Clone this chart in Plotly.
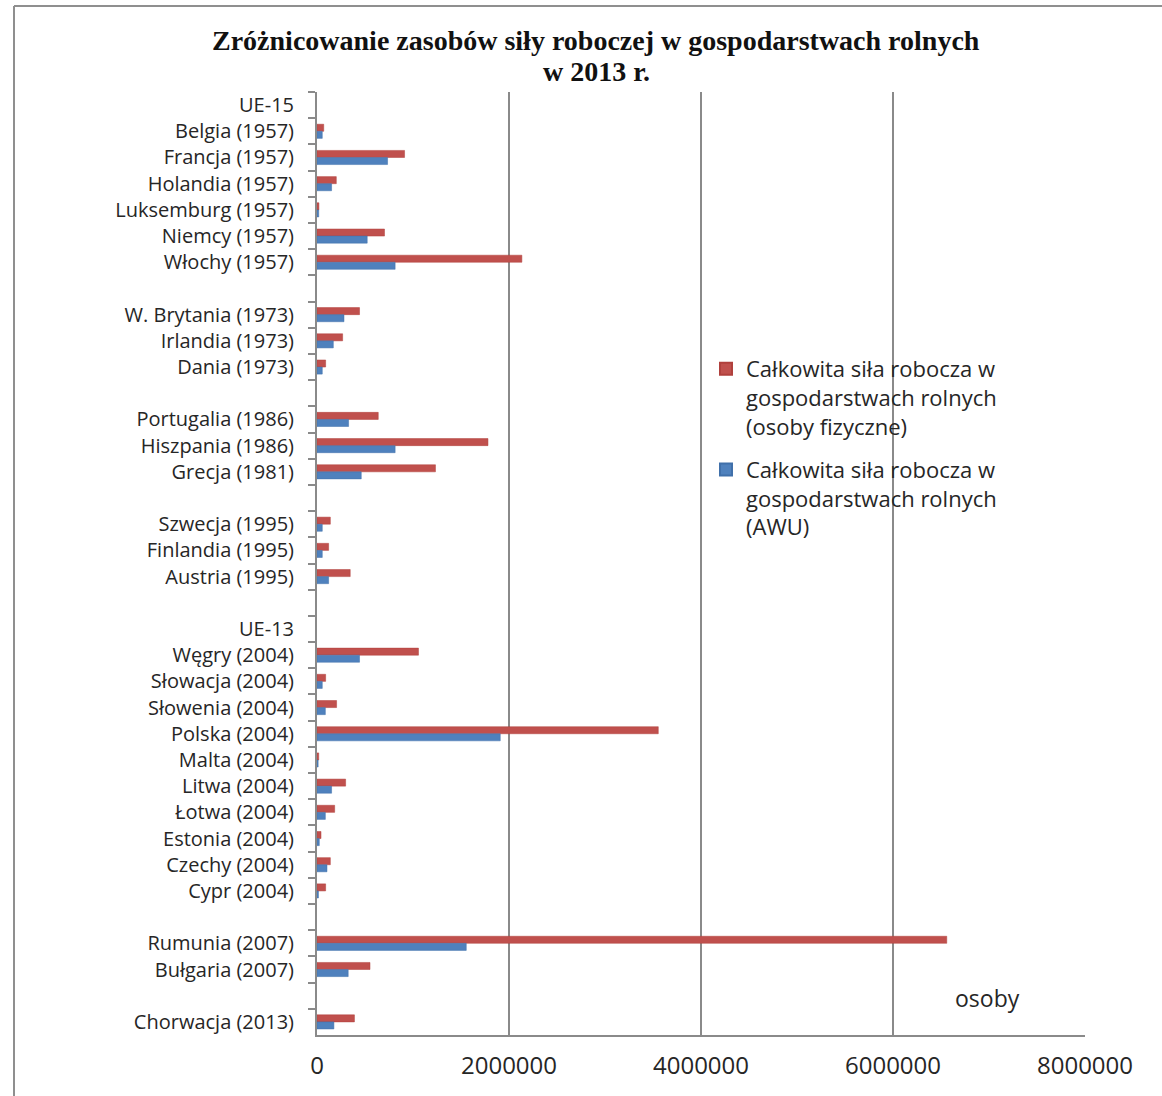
import plotly.graph_objects as go

categories = ["UE-15", "Belgia (1957)", "Francja (1957)", "Holandia (1957)", "Luksemburg (1957)",
              "Niemcy (1957)", "Włochy (1957)", " ", "W. Brytania (1973)", "Irlandia (1973)",
              "Dania (1973)", "  ", "Portugalia (1986)", "Hiszpania (1986)", "Grecja (1981)", "   ",
              "Szwecja (1995)", "Finlandia (1995)", "Austria (1995)", "    ", "UE-13", "Węgry (2004)",
              "Słowacja (2004)", "Słowenia (2004)", "Polska (2004)", "Malta (2004)", "Litwa (2004)",
              "Łotwa (2004)", "Estonia (2004)", "Czechy (2004)", "Cypr (2004)", "     ",
              "Rumunia (2007)", "Bułgaria (2007)", "      ", "Chorwacja (2013)"]

persons = [None, 70000, 912000, 201000, 20000, 703000, 2134000, None, 443000, 267000, 90000, None,
           638000, 1781000, 1234000, None, 139000, 121000, 346000, None, None, 1057000, 90000, 204000,
           3555000, 18000, 298000, 184000, 42000, 139000, 90000, None, 6560000, 552000, None, 390000]

awu = [None, 55000, 735000, 152000, 18000, 523000, 814000, None, 281000, 170000, 55000, None,
       329000, 814000, 461000, None, 55000, 55000, 121000, None, None, 443000, 55000, 87000,
       1909000, 12000, 152000, 87000, 24000, 104000, 15000, None, 1555000, 325000, None, 176000]

name_persons = "Całkowita siła robocza w<br>gospodarstwach rolnych<br>(osoby fizyczne)"
name_awu = "Całkowita siła robocza w<br>gospodarstwach rolnych<br>(AWU)"
title_line1 = "Zróżnicowanie zasobów siły roboczej w gospodarstwach rolnych"
title_line2 = "w 2013 r."
x_ticks = [0, 2000000, 4000000, 6000000, 8000000]
x_ticktext = ["0", "2000000", "4000000", "6000000", "8000000"]

RED = "#C0504D"
BLUE = "#4F81BD"
GRID = "#8a8a8a"
TXT = "#262626"

fig = go.Figure()
fig.add_trace(go.Bar(y=categories, x=persons, orientation="h", name=name_persons,
                     marker=dict(color=RED, line=dict(color="#b0403d", width=0.5)),
                     legendgroup="a"))
fig.add_trace(go.Bar(y=categories, x=awu, orientation="h", name=name_awu,
                     marker=dict(color=BLUE, line=dict(color="#4070aa", width=0.5)),
                     legendgroup="b"))

W, H = 1162, 1096
L, R, T, B = 317, 77, 92, 61
pw, ph = W - L - R, H - T - B


def px(xp):
    return (xp - L) / pw


def py(yp):
    return (H - B - yp) / ph


fig.update_layout(
    width=W, height=H,
    margin=dict(l=L, r=R, t=T, b=B, autoexpand=False),
    paper_bgcolor="white", plot_bgcolor="white",
    barmode="group", bargap=0.46, bargroupgap=0,
    font=dict(family="Open Sans", color=TXT, size=20),
    xaxis=dict(range=[0, 8000000], tickvals=x_ticks, ticktext=x_ticktext,
               showgrid=True, gridcolor=GRID, gridwidth=2, zeroline=False,
               showline=True, linecolor=GRID, linewidth=2, ticks="",
               ticklabelstandoff=8,
               tickfont=dict(size=24, color=TXT, family="Open Sans")),
    yaxis=dict(type="category", autorange="reversed", showgrid=False,
               showline=True, linecolor=GRID, linewidth=2,
               ticks="outside", ticklen=7, tickcolor=GRID, tickwidth=2, tickson="boundaries",
               ticklabelstandoff=17,
               tickfont=dict(size=20, color=TXT, family="Open Sans")),
    legend=dict(x=px(706), y=py(348), xanchor="left", yanchor="top",
                bgcolor="rgba(0,0,0,0)", font=dict(size=22, color=TXT, family="Open Sans"),
                valign="top", tracegroupgap=12, itemsizing="constant"),
    showlegend=True,
    annotations=[
        dict(text="<b>" + title_line1 + "</b>", x=px(596), y=py(40), xref="paper", yref="paper",
             xanchor="center", yanchor="middle", showarrow=False,
             font=dict(family="Liberation Serif", size=28, color="#111111")),
        dict(text="<b>" + title_line2 + "</b>", x=px(596), y=py(72), xref="paper", yref="paper",
             xanchor="center", yanchor="middle", showarrow=False,
             font=dict(family="Liberation Serif", size=28, color="#111111")),
        dict(text="osoby", x=px(987), y=py(998), xref="paper", yref="paper",
             xanchor="center", yanchor="middle", showarrow=False,
             font=dict(size=23, color=TXT, family="Open Sans")),
    ],
    shapes=[
        dict(type="line", xref="paper", yref="paper", x0=px(14), x1=px(1162), y0=py(6), y1=py(6),
             line=dict(color="#8f8f8f", width=2)),
        dict(type="line", xref="paper", yref="paper", x0=px(14), x1=px(14), y0=py(6), y1=py(1096),
             line=dict(color="#8f8f8f", width=2)),
    ],
)

fig.write_html("out.html", config={"displayModeBar": False},
               post_script="document.body.style.margin='0px';document.body.style.overflow='hidden';")
